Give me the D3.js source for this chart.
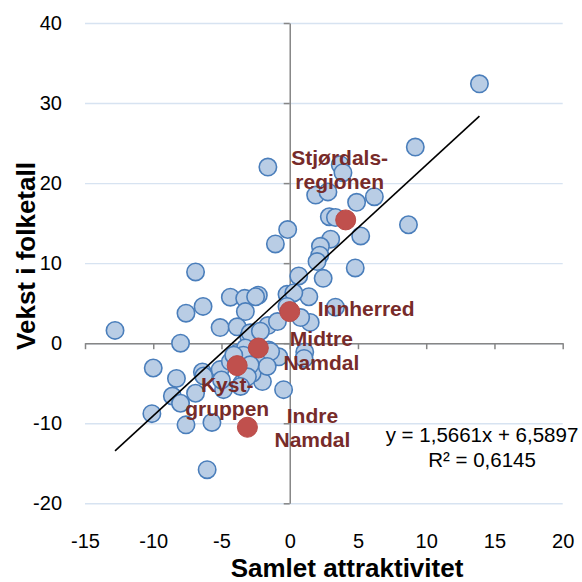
<!DOCTYPE html>
<html>
<head>
<meta charset="utf-8">
<script src="https://cdn.jsdelivr.net/npm/d3@7"></script>
<style>
  html, body { margin: 0; padding: 0; background: #fff; }
  svg { display: block; font-family: "Liberation Sans", Arial, sans-serif; }
</style>
</head>
<body>
<svg id="chart" width="582" height="582"></svg>
<script>
// ---- Data ----
const blueX = [13.9, 9.2, -1.6, 3.7, 3.9, 1.9, 2.8, 4.9, 6.2, 2.9, 3.35, -0.15, 5.2, -1.05, 3.0, 2.25, 2.2, 2.0,
  8.7, 4.8, 2.45, 0.66, -0.2, 1.4, 3.35, 1.5, 0.8, -6.9, -6.35, -7.6, -4.35, -3.3, -2.3, -2.5, -3.25, -5.1, -3.85,
  -8.0, -1.6, -0.9, 0.3, -0.2, -12.8, -3.0, -2.9, -2.15, -1.55, -3.85, -3.25, -3.25, -6.4, -0.8, -10.0, -8.3, -6.3,
  -5.1, -8.6, -8.0, -6.9, -10.1, -7.6, -5.7, -6.05, -2.0, -0.45, -4.85, -3.5, -2.75, -3.4, -2.0, -1.4, 1.1, 1.05,
  -4.35, -4.1, -1.65, -2.9, -3.1, -5.0, -3.6];
const blueY = [32.4, 24.5, 22.0, 22.3, 21.3, 18.5, 18.9, 17.6, 18.3, 15.8, 15.7, 14.2, 13.4, 12.4, 13.0, 12.1, 11.0, 10.2,
  14.8, 9.4, 8.1, 8.4, 6.1, 5.8, 4.5, 2.6, 3.2, 8.9, 4.6, 3.75, 5.75, 5.6, 6.0, 5.8, 3.95, 1.95, 2.05,
  0.0, 2.2, 2.7, 6.3, 4.6, 1.6, 0.8, 1.3, 1.5, -0.85, -1.25, -0.6, -2.1, -3.6, -1.7, -3.1, -4.4, -4.1,
  -3.3, -6.6, -7.5, -6.25, -8.8, -10.2, -9.9, -15.8, -4.8, -5.8, -5.8, -5.0, -3.75, -1.5, -1.7, -1.05, -1.1, -1.9,
  -2.3, -1.5, -2.9, -2.7, -4.2, -4.6, -5.4];

const regionNames = ["Stjørdals-|regionen", "Innherred", "Midtre|Namdal", "Kyst-|gruppen", "Indre|Namdal"];
const regionX = [4.1, 0.0, -2.3, -3.85, -3.1];
const regionY = [15.4, 3.95, -0.6, -2.8, -10.5];

const xTicks = [-15, -10, -5, 0, 5, 10, 15, 20];
const yTicks = [-20, -10, 0, 10, 20, 30, 40];

const trendSlope = [1.5661];
const trendIntercept = [6.5897];
const equationLines = ["y = 1,5661x + 6,5897", "R² = 0,6145"];

const xTitle = "Samlet attraktivitet";
const yTitle = "Vekst i folketall";

// ---- Layout ----
const plot = { left: 85, right: 562.7, top: 23, bottom: 503.3 };
const svg = d3.select("#chart");
const fmt = d => String(d);

const x = d3.scaleLinear().domain([-15, 20]).range([plot.left, plot.right]);
const y = d3.scaleLinear().domain([-20, 40]).range([plot.bottom, plot.top]);

// gridlines
const grid = svg.append("g").attr("transform", `translate(${plot.left},0)`)
  .call(d3.axisLeft(y).tickValues(yTicks).tickSize(-(plot.right - plot.left)).tickFormat(""));
grid.select(".domain").remove();
grid.selectAll(".tick line").attr("stroke", "#d7e3f1").attr("stroke-width", 1.4);

// y tick labels at left
const yLab = svg.append("g").attr("transform", `translate(${plot.left},0)`)
  .call(d3.axisLeft(y).tickValues(yTicks).tickSize(0).tickPadding(23).tickFormat(fmt));
yLab.select(".domain").remove();
yLab.selectAll("text").attr("font-size", 20).attr("fill", "#000")
  .attr("font-family", "'Liberation Sans', Arial, sans-serif");

// x tick labels at bottom
const xLab = svg.append("g").attr("transform", `translate(0,${plot.bottom})`)
  .call(d3.axisBottom(x).tickValues(xTicks).tickSize(0).tickPadding(30.5).tickFormat(fmt));
xLab.select(".domain").remove();
xLab.selectAll("text").attr("font-size", 20).attr("fill", "#000")
  .attr("font-family", "'Liberation Sans', Arial, sans-serif");

// vertical axis line at x=0 with ticks
const yAx = svg.append("g").attr("transform", `translate(${x(0)},0)`)
  .call(d3.axisLeft(y).tickValues(yTicks).tickSize(6).tickSizeOuter(0).tickFormat(""));
yAx.select(".domain").attr("stroke", "#868686").attr("stroke-width", 1.5);
yAx.selectAll(".tick line").attr("stroke", "#868686").attr("stroke-width", 1.5);

// horizontal axis line at y=0 with ticks
const xAx = svg.append("g").attr("transform", `translate(0,${y(0)})`)
  .call(d3.axisBottom(x).tickValues(xTicks).tickSize(6).tickSizeOuter(0).tickFormat(""));
xAx.select(".domain").attr("stroke", "#868686").attr("stroke-width", 1.5);
xAx.selectAll(".tick line").attr("stroke", "#868686").attr("stroke-width", 1.5);

// blue points
const blue = blueX.map((v, i) => ({ x: v, y: blueY[i] }));
svg.append("g").selectAll("circle").data(blue).join("circle")
  .attr("cx", d => x(d.x)).attr("cy", d => y(d.y)).attr("r", 8.7)
  .attr("fill", "#b9cde5").attr("stroke", "#4a7ebb").attr("stroke-width", 1.6);

// trendline
const allX = blueX.concat(regionX);
const xmin = d3.min(allX), xmax = d3.max(allX);
const f = v => trendSlope[0] * v + trendIntercept[0];
svg.append("line")
  .attr("x1", x(xmin)).attr("y1", y(f(xmin)))
  .attr("x2", x(xmax)).attr("y2", y(f(xmax)))
  .attr("stroke", "#000").attr("stroke-width", 1.6);

// red region points
const regions = regionX.map((v, i) => ({ x: v, y: regionY[i], name: regionNames[i] }));
svg.append("g").selectAll("circle").data(regions).join("circle")
  .attr("cx", d => x(d.x)).attr("cy", d => y(d.y)).attr("r", 10)
  .attr("fill", "#c0504d").attr("stroke", "#b94a47").attr("stroke-width", 1);

// region labels (offsets from point in px)
const labelOffsets = [[-6, -55, "middle"], [28, 4, "start"], [63, -2, "middle"], [-10, 26, "middle"], [65, -4, "middle"]];
const lab = svg.append("g").attr("font-weight", "bold").attr("font-size", 21).attr("fill", "#772b2a");
regions.forEach((d, i) => {
  const [dx, dy, anchor] = labelOffsets[i];
  const t = lab.append("text").attr("text-anchor", anchor)
    .attr("x", x(d.x) + dx).attr("y", y(d.y) + dy);
  d.name.split("|").forEach((line, j) => {
    t.append("tspan").attr("x", x(d.x) + dx).attr("dy", j === 0 ? 0 : 24).text(line);
  });
});

// equation
const eq = svg.append("text").attr("text-anchor", "middle").attr("font-size", 20.5).attr("fill", "#000");
equationLines.forEach((line, j) => {
  eq.append("tspan").attr("x", 482).attr("y", 442 + j * 25).text(line);
});

// axis titles
svg.append("text").attr("x", 347).attr("y", 577).attr("text-anchor", "middle")
  .attr("font-weight", "bold").attr("font-size", 26).attr("fill", "#000").text(xTitle);
svg.append("text").attr("transform", "translate(35,256) rotate(-90)").attr("text-anchor", "middle")
  .attr("font-weight", "bold").attr("font-size", 26).attr("fill", "#000").text(yTitle);
</script>
</body>
</html>
